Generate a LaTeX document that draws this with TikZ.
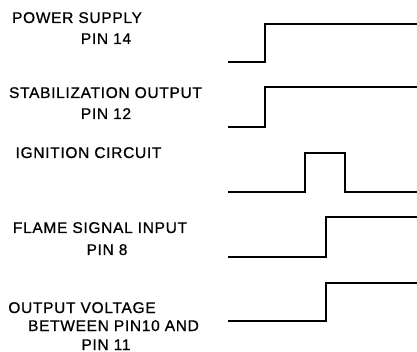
\documentclass[tikz,border=0pt]{standalone}
\usepackage{fontspec}
\setmainfont{Liberation Sans}[LetterSpace=4.5,FakeBold=0.8]
\begin{document}
\begin{tikzpicture}[x=1pt,y=-1pt,
  lbl/.style={font=\fontsize{15.5}{18}\selectfont, inner sep=0pt, anchor=base},
  wave/.style={line width=1.8pt, line join=miter}]
\useasboundingbox (0,0) rectangle (417,352);
% labels
\node[lbl] (ps)  at (77,23)   {POWER SUPPLY};
\node[lbl] (p14) at (106,44)  {PIN 14};
\node[lbl] (so)  at (105.5,98){STABILIZATION OUTPUT};
\node[lbl] (p12) at (106,119) {PIN 12};
\node[lbl] (ic)  at (88.5,158){IGNITION CIRCUIT};
\node[lbl] (fs)  at (100,233) {FLAME SIGNAL INPUT};
\node[lbl] (p8)  at (107,255) {PIN 8};
\node[lbl] (ov)  at (82,313)  {OUTPUT VOLTAGE};
\node[lbl] (bp)  at (113.5,331){BETWEEN PIN10 AND};
\node[lbl] (p11) at (106,350) {PIN 11};
% waveforms
\draw[wave] (228,62) -- (265,62) -- (265,24) -- (417,24);
\draw[wave] (228,127) -- (265,127) -- (265,87) -- (417,87);
\draw[wave] (228,192) -- (305,192) -- (305,153) -- (345,153) -- (345,192) -- (417,192);
\draw[wave] (228,257) -- (326,257) -- (326,217) -- (417,217);
\draw[wave] (228,321) -- (326,321) -- (326,283) -- (417,283);
\end{tikzpicture}
\end{document}
